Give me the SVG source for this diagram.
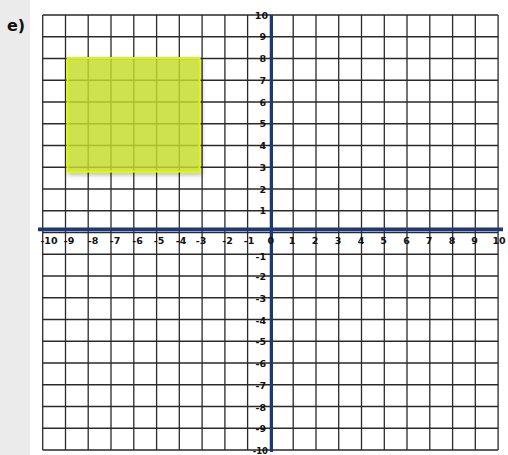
<svg xmlns="http://www.w3.org/2000/svg" width="508" height="455" viewBox="0 0 508 455">
<style>
.g{stroke:#2a2a2a;stroke-width:1.3;fill:none}
.ax{stroke:#1c3878;fill:none}
.lb{font-family:"DejaVu Sans","Liberation Sans",sans-serif;font-weight:bold;font-size:9.5px;fill:#111}
.xl{text-anchor:middle}
.yl{text-anchor:end}
</style>
<defs>
<filter id="sh" x="-10%" y="-10%" width="130%" height="130%">
<feDropShadow dx="1.5" dy="2.5" stdDeviation="2" flood-color="#000" flood-opacity="0.3"/>
</filter>
</defs>
<rect x="0" y="0" width="508" height="455" fill="#ffffff"/>
<rect x="0" y="0" width="30" height="455" fill="#ebebeb"/>
<text x="7" y="31" font-family="'DejaVu Sans','Liberation Sans',sans-serif" font-weight="bold" font-size="16" fill="#111">e)</text>
<g id="grid">
<path class="g" d="M42.7 15V450M65.5 15V450M88.2 15V450M111 15V450M133.8 15V450M156.6 15V450M179.3 15V450M202.1 15V450M224.9 15V450M247.6 15V450M270.4 15V450M293.2 15V450M316 15V450M338.7 15V450M361.5 15V450M384.3 15V450M407 15V450M429.8 15V450M452.6 15V450M475.3 15V450M498.1 15V450"/>
<path class="g" d="M42.7 15H498.1M42.7 36.75H498.1M42.7 58.5H498.1M42.7 80.25H498.1M42.7 102H498.1M42.7 123.75H498.1M42.7 145.5H498.1M42.7 167.25H498.1M42.7 189H498.1M42.7 210.75H498.1M42.7 232.5H498.1M42.7 254.25H498.1M42.7 276H498.1M42.7 297.75H498.1M42.7 319.5H498.1M42.7 341.25H498.1M42.7 363H498.1M42.7 384.75H498.1M42.7 406.5H498.1M42.7 428.25H498.1M42.7 450H498.1"/>
</g>
<g id="shape">
<rect x="67.5" y="58" width="132" height="113.5" fill="#c8e22a" fill-opacity="0.78" stroke="#dcf500" stroke-width="2" filter="url(#sh)"/>
</g>
<g id="axes">
<line class="ax" x1="38" y1="229.3" x2="503" y2="229.3" stroke-width="3.8"/>
<line class="ax" x1="271.5" y1="15" x2="271.5" y2="452" stroke-width="3"/>
</g>
<g id="xlabels" class="lb xl">
<text x="49" y="244">-10</text>
<text x="69" y="244">-9</text>
<text x="93" y="244">-8</text>
<text x="115" y="244">-7</text>
<text x="137.5" y="244">-6</text>
<text x="159" y="244">-5</text>
<text x="181" y="244">-4</text>
<text x="201" y="244">-3</text>
<text x="227.5" y="244">-2</text>
<text x="249" y="244">-1</text>
<text x="270.7" y="244">0</text>
<text x="292" y="244">1</text>
<text x="315" y="244">2</text>
<text x="338" y="244">3</text>
<text x="361" y="244">4</text>
<text x="383.5" y="244">5</text>
<text x="406.5" y="244">6</text>
<text x="429" y="244">7</text>
<text x="452" y="244">8</text>
<text x="474.5" y="244">9</text>
<text x="499" y="244">10</text>
</g>
<g id="ylabels" class="lb yl">
<text x="268" y="18.5">10</text>
<text x="266" y="40.2">9</text>
<text x="266" y="62">8</text>
<text x="266" y="83.7">7</text>
<text x="266" y="105.5">6</text>
<text x="266" y="127.2">5</text>
<text x="266" y="149">4</text>
<text x="266" y="170.7">3</text>
<text x="266" y="192.5">2</text>
<text x="266" y="214.2">1</text>
<text x="266" y="260">-1</text>
<text x="266" y="280">-2</text>
<text x="266" y="301.7">-3</text>
<text x="266" y="323.5">-4</text>
<text x="266" y="345.2">-5</text>
<text x="266" y="367">-6</text>
<text x="266" y="388.7">-7</text>
<text x="266" y="410.5">-8</text>
<text x="266" y="432.2">-9</text>
<text x="268" y="453.5" font-size="8.5">-10</text>
</g>
</svg>
